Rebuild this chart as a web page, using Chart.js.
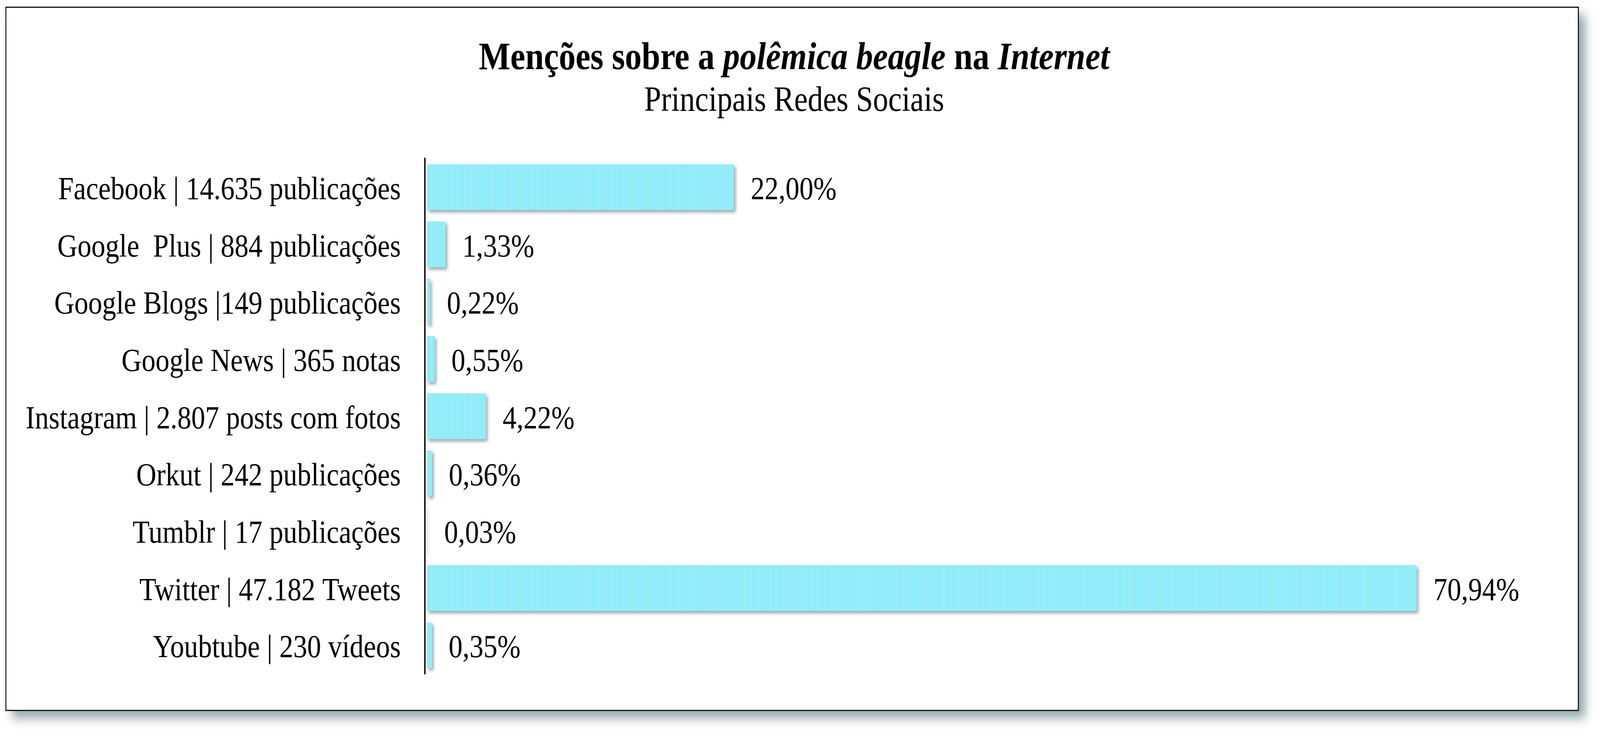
<!DOCTYPE html>
<html lang="pt">
<head>
<meta charset="utf-8">
<title>Menções sobre a polêmica beagle na Internet</title>
<script src="https://cdn.jsdelivr.net/npm/chart.js@4.4.0/dist/chart.umd.min.js"></script>
<style>
  html, body { margin: 0; padding: 0; background: #fff; overflow: hidden; }
  #grafico { position: absolute; left: 0; top: 0; }
</style>
</head>
<body>
<canvas id="grafico" width="4771" height="1885"></canvas>
<script>
const redes = [
  "Facebook | 14.635 publicações",
  "Google  Plus | 884 publicações",
  "Google Blogs |149 publicações",
  "Google News | 365 notas",
  "Instagram | 2.807 posts com fotos",
  "Orkut | 242 publicações",
  "Tumblr | 17 publicações",
  "Twitter | 47.182 Tweets",
  "Youbtube | 230 vídeos"
];
const percentuais = [22.00, 1.33, 0.22, 0.55, 4.22, 0.36, 0.03, 70.94, 0.35];

const tituloPartes = [
  { text: "Menções sobre a ", italic: false },
  { text: "polêmica beagle", italic: true },
  { text: " na ", italic: false },
  { text: "Internet", italic: true }
];
const subtitulo = "Principais Redes Sociais";

const fonte = "'Liberation Serif', 'Times New Roman', serif";

// o desenho é feito em 4771x1885 e a tela o encaixa na janela real
const canvas = document.getElementById('grafico');
canvas.style.width = window.innerWidth + 'px';
canvas.style.height = window.innerHeight + 'px';

// listras verticais da barra
function criaPadrao(ctx) {
  const c = document.createElement('canvas');
  c.width = 3; c.height = 1;
  const p = c.getContext('2d');
  p.fillStyle = 'rgb(108, 230, 246)';
  p.fillRect(0, 0, 2, 1);
  p.fillStyle = 'rgb(226, 249, 252)';
  p.fillRect(2, 0, 1, 1);
  return ctx.createPattern(c, 'repeat');
}

const ctx = canvas.getContext('2d');

const pluginMoldura = {
  id: 'moldura',
  beforeDraw(chart) {
    const c = chart.ctx;
    c.save();
    c.fillStyle = '#fff';
    c.fillRect(0, 0, chart.width, chart.height);
    c.shadowColor = 'rgba(118, 145, 145, 0.8)';
    c.shadowBlur = 26;
    c.shadowOffsetX = 20;
    c.shadowOffsetY = 20;
    c.fillRect(17, 18, 4689, 1801);
    c.restore();
    c.save();
    c.strokeStyle = '#111';
    c.lineWidth = 3;
    c.strokeRect(17.5, 18.5, 4689, 1801);
    c.restore();
  }
};

const pluginBarras = {
  id: 'barrasSombra',
  beforeDatasetsDraw(chart) {
    const c = chart.ctx;
    c.save();
    c.shadowColor = 'rgba(90, 112, 112, 0.6)';
    c.shadowOffsetX = 5;
    c.shadowOffsetY = 6;
    c.shadowBlur = 8;
  },
  afterDatasetsDraw(chart) {
    const c = chart.ctx;
    c.restore();
    const meta = chart.getDatasetMeta(0);
    c.save();
    c.font = "83px " + fonte;
    c.fillStyle = '#000';
    c.textAlign = 'left';
    c.textBaseline = 'middle';
    meta.data.forEach((bar, i) => {
      const txt = percentuais[i].toFixed(2).replace('.', ',') + '%';
      c.fillText(txt, bar.x + 50, bar.y + 9);
    });
    c.restore();
  }
};

const pluginTitulo = {
  id: 'tituloMisto',
  afterDraw(chart) {
    const c = chart.ctx;
    const centro = 2368;
    c.save();
    c.fillStyle = '#000';
    c.textBaseline = 'alphabetic';
    let total = 0;
    tituloPartes.forEach(p => {
      c.font = (p.italic ? 'italic ' : '') + 'bold 100px ' + fonte;
      p.w = c.measureText(p.text).width;
      total += p.w;
    });
    let x = centro - total / 2;
    c.textAlign = 'left';
    tituloPartes.forEach(p => {
      c.font = (p.italic ? 'italic ' : '') + 'bold 100px ' + fonte;
      c.fillText(p.text, x, 177);
      x += p.w;
    });
    c.font = '91px ' + fonte;
    c.textAlign = 'center';
    c.fillText(subtitulo, centro, 284);
    c.restore();
  }
};

new Chart(ctx, {
  type: 'bar',
  data: {
    labels: redes,
    datasets: [{
      data: percentuais,
      backgroundColor: criaPadrao(ctx),
      borderWidth: 0,
      categoryPercentage: 1.0,
      barPercentage: 0.8
    }]
  },
  options: {
    indexAxis: 'y',
    responsive: false,
    animation: false,
    devicePixelRatio: 1,
    layout: { padding: { top: 406, bottom: 159, left: 0, right: 253 } },
    plugins: {
      legend: { display: false },
      title: { display: false },
      tooltip: { enabled: false }
    },
    scales: {
      x: {
        display: false,
        min: -0.15,
        max: 78
      },
      y: {
        afterFit(scale) { scale.width = 1267; },
        grid: { display: false, drawTicks: false },
        border: { display: true, color: '#000', width: 4 },
        ticks: {
          autoSkip: false,
          padding: 72,
          labelOffset: 9,
          color: '#000',
          font: { family: fonte, size: 83 }
        }
      }
    }
  },
  plugins: [pluginMoldura, pluginBarras, pluginTitulo]
});
</script>
</body>
</html>
